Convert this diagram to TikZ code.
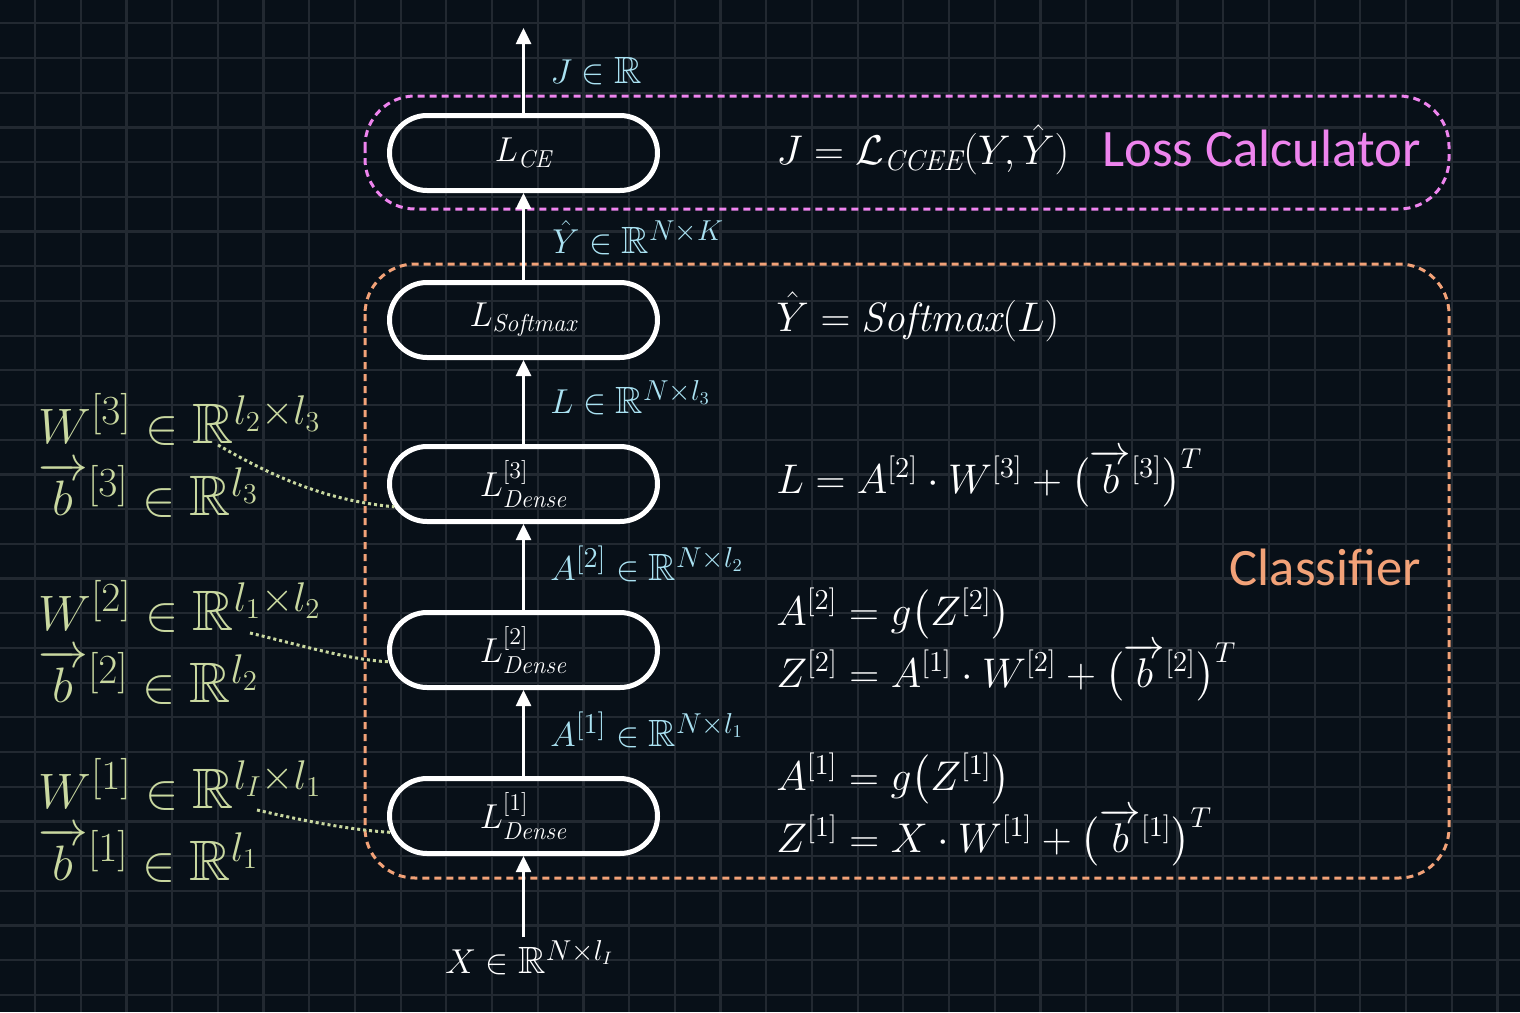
\documentclass[tikz,border=0pt]{standalone}
\usepackage{amsmath,amssymb}
\usepackage{fontspec}
\newfontfamily\calib{Carlito}
\usetikzlibrary{shapes.misc,arrows.meta}
\definecolor{bg}{RGB}{8,16,24}
\definecolor{gridc}{RGB}{34,41,49}
\definecolor{lblue}{RGB}{170,226,242}
\definecolor{lgreen}{RGB}{201,216,160}
\definecolor{lviolet}{RGB}{238,132,238}
\definecolor{lorange}{RGB}{242,162,120}
\newcommand{\vb}{\smash{\overrightarrow{b}}}
\begin{document}
\begin{tikzpicture}[x=0.5pt,y=-0.5pt,
  gridline/.style={draw=gridc, line width=1.1pt},
  layer/.style={draw=white, line width=2.5pt, rounded rectangle, minimum width=134pt, minimum height=37.5pt, inner sep=0pt, text=white, font=\fontsize{17.5}{20}\selectfont},
  arr/.style={draw=white, line width=1.3pt, -{Triangle[width=7.5pt,length=8pt]}},
  dimlab/.style={text=lblue, anchor=base west, inner sep=0pt, font=\fontsize{19}{22}\selectfont},
  eqlab/.style={text=white, anchor=base west, inner sep=0pt, font=\fontsize{20.5}{24}\selectfont},
  parlab/.style={text=lgreen, anchor=base west, inner sep=0pt, font=\fontsize{28.5}{32}\selectfont},
  link/.style={draw=lgreen, line width=1.5pt, dash pattern=on 1.5pt off 1.5pt},
  grp/.style={line width=1.5pt, dash pattern=on 3.5pt off 2.5pt, rounded corners=25pt},
  title/.style={anchor=base east, inner sep=0pt, font=\calib\fontsize{26.3}{30}\selectfont}
]
\useasboundingbox (0,0) rectangle (1520,1012);
\fill[bg] (0,0) rectangle (1520,1012);
\foreach \i in {0,...,32} \draw[gridline] ({35+45.7*\i},0) -- ({35+45.7*\i},1012);
\foreach \j in {0,...,28} \draw[gridline] (0,{23.3+34.7*\j}) -- (1520,{23.3+34.7*\j});

% group boxes
\draw[grp, draw=lviolet] (365,96) rectangle (1449,209);
\draw[grp, draw=lorange] (365,264) rectangle (1449,878);
\node[title, text=lviolet] (tLoss) at (1421,166) {Loss Calculator};
\node[title, text=lorange] (tCls) at (1421,585) {Classifier};

% layers
\node[layer] (LCE) at (523.5,153) {$L_{\mathit{CE}}$};
\node[layer] (LSM) at (523.5,320) {$L_{\mathit{Softmax}}$};
\node[layer] (L3) at (523.5,484) {$L^{[3]}_{\mathit{Dense}}$};
\node[layer] (L2) at (523.5,650) {$L^{[2]}_{\mathit{Dense}}$};
\node[layer] (L1) at (523.5,816) {$L^{[1]}_{\mathit{Dense}}$};

% connectors
\coordinate (xin) at (523.5,937);
\coordinate (jout) at (523.5,28);
\draw[arr] (xin) -- (L1.south);
\draw[arr] (L1.north) -- (L2.south);
\draw[arr] (L2.north) -- (L3.south);
\draw[arr] (L3.north) -- (LSM.south);
\draw[arr] (LSM.north) -- (LCE.south);
\draw[arr] (LCE.north) -- (jout);

% dimension labels
\node[dimlab] (dJ) at (550,83) {$J \in \mathbb{R}$};
\node[dimlab] (dY) at (552,253) {$\hat{Y} \in \mathbb{R}^{N\times K}$};
\node[dimlab] (dL) at (550,413) {$L \in \mathbb{R}^{N\times l_3}$};
\node[dimlab] (dA2) at (550,580) {$A^{[2]} \in \mathbb{R}^{N\times l_2}$};
\node[dimlab] (dA1) at (550,746) {$A^{[1]} \in \mathbb{R}^{N\times l_1}$};
\node[dimlab, text=white] (dX) at (445,973) {$X \in \mathbb{R}^{N\times l_I}$};

% equations
\node[eqlab] (e1) at (776,164) {$J = \mathcal{L}_{\mathit{CCEE}}(Y,\hat{Y})$};
\node[eqlab] (e2) at (776,331) {$\hat{Y} = \mathit{Softmax}(L)$};
\node[eqlab] (e3) at (776,493) {$L = A^{[2]}\cdot W^{[3]} + \bigl(\vb^{[3]}\bigr)^T$};
\node[eqlab] (e4) at (776,625) {$A^{[2]} = g\bigl(Z^{[2]}\bigr)$};
\node[eqlab] (e5) at (776,687) {$Z^{[2]} = A^{[1]}\cdot W^{[2]} + \bigl(\vb^{[2]}\bigr)^T$};
\node[eqlab] (e6) at (776,790) {$A^{[1]} = g\bigl(Z^{[1]}\bigr)$};
\node[eqlab] (e7) at (776,852) {$Z^{[1]} = X\cdot W^{[1]} + \bigl(\vb^{[1]}\bigr)^T$};

% parameters
\node[parlab] (w3) at (38,443) {$W^{[3]} \in \mathbb{R}^{l_2\times l_3}$};
\node[parlab] (b3) at (38,515) {$\vb^{[3]} \in \mathbb{R}^{l_3}$};
\node[parlab] (w2) at (38,630) {$W^{[2]} \in \mathbb{R}^{l_1\times l_2}$};
\node[parlab] (b2) at (38,702) {$\vb^{[2]} \in \mathbb{R}^{l_2}$};
\node[parlab] (w1) at (38,808) {$W^{[1]} \in \mathbb{R}^{l_I\times l_1}$};
\node[parlab] (b1) at (38,880) {$\vb^{[1]} \in \mathbb{R}^{l_1}$};

\coordinate (w3e) at (218,445);
\coordinate (w2e) at (250,633);
\coordinate (w1e) at (257,810);
\draw[link] (w3e) .. controls (265,472) and (320,500) .. (L3.190);
\draw[link] (w2e) .. controls (300,645) and (350,660) .. (L2.185);
\draw[link] (w1e) .. controls (300,820) and (350,830) .. (L1.187);
\end{tikzpicture}
\end{document}
